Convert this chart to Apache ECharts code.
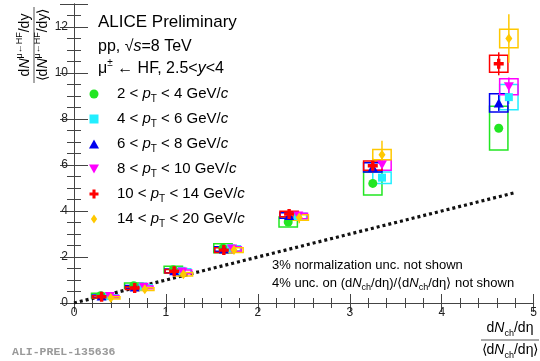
<!DOCTYPE html>
<html><head><meta charset="utf-8">
<script src="https://cdn.jsdelivr.net/npm/echarts@6/dist/echarts.min.js"></script>
<style>html,body{margin:0;padding:0;background:#fff}#c{width:540px;height:361px}</style>
</head><body><div id="c"></div>
<script>
// ---------------- data ----------------
const seriesNames = ['pt2_4', 'pt4_6', 'pt6_8', 'pt8_10', 'pt10_14', 'pt14_20'];
const legendLabels = [
  '2 < {i|p}{sub|T} < 4 GeV/{i|c}',
  '4 < {i|p}{sub|T} < 6 GeV/{i|c}',
  '6 < {i|p}{sub|T} < 8 GeV/{i|c}',
  '8 < {i|p}{sub|T} < 10 GeV/{i|c}',
  '10 < {i|p}{sub|T} < 14 GeV/{i|c}',
  '14 < {i|p}{sub|T} < 20 GeV/{i|c}'
];
// x positions (relative multiplicity)
const xGreen   = [0.29, 0.65, 1.08, 1.62, 2.33, 3.25, 4.62];
const xCyan    = [0.38, 0.75, 1.17, 1.71, 2.43, 3.35, 4.73];
const xBlue    = [0.30, 0.66, 1.09, 1.63, 2.34, 3.25, 4.62];
const xMagenta = [0.39, 0.76, 1.18, 1.72, 2.44, 3.35, 4.73];
const xRed     = [0.30, 0.66, 1.09, 1.63, 2.34, 3.25, 4.62];
const xYellow  = [0.40, 0.77, 1.19, 1.74, 2.45, 3.35, 4.73];
// relative yields
const yGreen   = [0.32, 0.75, 1.45, 2.38, 3.52, 5.20, 7.60];
const yCyan    = [0.30, 0.72, 1.40, 2.38, 3.78, 5.45, 8.95];
const yBlue    = [0.30, 0.70, 1.40, 2.35, 3.80, 5.90, 8.70];
const yMagenta = [0.28, 0.68, 1.35, 2.35, 3.78, 6.00, 9.40];
const yRed     = [0.27, 0.65, 1.38, 2.30, 3.87, 5.97, 10.40];
const yYellow  = [0.22, 0.60, 1.25, 2.30, 3.72, 6.45, 11.50];
// statistical uncertainties
const statGreen   = [0.01, 0.02, 0.03, 0.04, 0.05, 0.10, 0.15];
const statCyan    = [0.01, 0.02, 0.03, 0.04, 0.06, 0.15, 0.30];
const statBlue    = [0.01, 0.02, 0.03, 0.05, 0.08, 0.20, 0.35];
const statMagenta = [0.02, 0.03, 0.04, 0.06, 0.10, 0.25, 0.40];
const statRed     = [0.02, 0.03, 0.05, 0.08, 0.12, 0.30, 0.50];
const statYellow  = [0.04, 0.06, 0.10, 0.15, 0.25, 0.60, 1.05];
// systematic uncertainties
const systGreen   = [0.10, 0.12, 0.15, 0.20, 0.22, 0.50, 0.95];
const systCyan    = [0.06, 0.07, 0.09, 0.11, 0.12, 0.25, 0.55];
const systBlue    = [0.05, 0.06, 0.08, 0.10, 0.12, 0.20, 0.40];
const systMagenta = [0.05, 0.06, 0.08, 0.10, 0.12, 0.23, 0.35];
const systRed     = [0.05, 0.06, 0.08, 0.10, 0.12, 0.20, 0.37];
const systYellow  = [0.05, 0.06, 0.08, 0.10, 0.12, 0.22, 0.40];
// reference line y = x
const refLineX = [0, 4.8];
const refLineY = [0, 4.8];
// axis ticks
const xTickLabels = ['0', '1', '2', '3', '4', '5'];
const yTickLabels = ['0', '2', '4', '6', '8', '10', '12'];

// ---------------- styles ----------------
const FONT = '"Liberation Sans", Arial, Helvetica, sans-serif';
const colors = ['#22e622', '#22eeff', '#0000ee', '#ff00ff', '#ff0000', '#ffc800'];
const symbols = [
  'path://M0,5a5,5 0 1,0 10,0a5,5 0 1,0 -10,0z',
  'path://M0,0h10v10h-10z',
  'path://M5,0L10,9L0,9z',
  'path://M0,0L10,0L5,9z',
  'path://M3.3,0h3.4v3.3h3.3v3.4h-3.3v3.3h-3.4v-3.3h-3.3v-3.4h3.3z',
  'path://M3.5,0L7,5L3.5,10L0,5z'
];
const symbolSizes = [[9, 9], [8, 8], [10, 9], [10, 9], [10, 10], [7, 10]];
const BOX_HALF_W = 0.1;

const X = [xGreen, xCyan, xBlue, xMagenta, xRed, xYellow];
const Y = [yGreen, yCyan, yBlue, yMagenta, yRed, yYellow];
const S = [statGreen, statCyan, statBlue, statMagenta, statRed, statYellow];
const SY = [systGreen, systCyan, systBlue, systMagenta, systRed, systYellow];

const series = [];
series.push({
  type: 'line', name: 'ref', data: refLineX.map((x, i) => [x, refLineY[i]]),
  showSymbol: false, silent: true, z: 1,
  lineStyle: { color: '#111', width: 3.2, type: [3, 3], cap: 'butt' }
});
for (let k = 0; k < 6; k++) {
  const col = colors[k];
  series.push({
    type: 'custom', name: seriesNames[k] + '_unc', z: 2, silent: true,
    data: X[k].map((x, i) => [x, Y[k][i], S[k][i], SY[k][i]]),
    renderItem: function (params, api) {
      const x = api.value(0), y = api.value(1), st = api.value(2), sy = api.value(3);
      const p0 = api.coord([x - BOX_HALF_W, y + sy]);
      const p1 = api.coord([x + BOX_HALF_W, y - sy]);
      const e0 = api.coord([x, y + st]);
      const e1 = api.coord([x, y - st]);
      return {
        type: 'group', children: [
          { type: 'rect', shape: { x: p0[0], y: p0[1], width: p1[0] - p0[0], height: p1[1] - p0[1] },
            style: { fill: 'none', stroke: col, lineWidth: 1.5 } },
          { type: 'line', shape: { x1: e0[0], y1: e0[1], x2: e1[0], y2: e1[1] },
            style: { stroke: col, lineWidth: 1.5 } }
        ]
      };
    }
  });
}
for (let k = 0; k < 6; k++) {
  series.push({
    type: 'scatter', name: seriesNames[k], z: 3 + k,
    data: X[k].map((x, i) => [x, Y[k][i]]),
    symbol: symbols[k], symbolSize: symbolSizes[k], symbolKeepAspect: false,
    itemStyle: { color: colors[k], opacity: 1 },
    emphasis: { disabled: true }
  });
}

const axisLineStyle = { color: '#444', width: 1 };
const richSub = {
  i: { fontStyle: 'italic', fontFamily: FONT, fontSize: 15, lineHeight: 20 },
  sub: { fontFamily: FONT, fontSize: 10, lineHeight: 10, verticalAlign: 'bottom' }
};

const option = {
  animation: false,
  backgroundColor: '#fff',
  grid: { left: 74, right: 4, top: 4, bottom: 58 },
  xAxis: [{
    type: 'value', min: 0, max: 5, interval: 1, position: 'bottom',
    axisLine: { lineStyle: axisLineStyle },
    axisTick: { inside: true, length: 9, lineStyle: axisLineStyle },
    minorTick: { show: true, splitNumber: 5, length: 5, lineStyle: axisLineStyle },
    splitLine: { show: false },
    axisLabel: { margin: 4, fontFamily: FONT, fontSize: 12, color: '#222',
      formatter: v => xTickLabels[Math.round(v)] }
  }, {
    type: 'value', min: 0, max: 5, interval: 1, position: 'top',
    axisLine: { lineStyle: axisLineStyle },
    axisTick: { inside: true, length: 9, lineStyle: axisLineStyle },
    minorTick: { show: true, splitNumber: 5, length: 5, lineStyle: axisLineStyle },
    splitLine: { show: false }, axisLabel: { show: false }
  }],
  yAxis: [{
    type: 'value', min: 0, max: 13, interval: 2, position: 'left',
    axisLine: { lineStyle: axisLineStyle },
    axisTick: { inside: true, length: 14, lineStyle: axisLineStyle },
    minorTick: { show: true, splitNumber: 4, length: 7, lineStyle: axisLineStyle },
    splitLine: { show: false },
    axisLabel: { margin: 6, fontFamily: FONT, fontSize: 12, color: '#222', showMaxLabel: false,
      formatter: v => (v % 2 === 0 ? yTickLabels[v / 2] : '') }
  }, {
    type: 'value', min: 0, max: 13, interval: 2, position: 'right',
    axisLine: { lineStyle: axisLineStyle },
    axisTick: { inside: true, length: 14, lineStyle: axisLineStyle },
    minorTick: { show: true, splitNumber: 4, length: 7, lineStyle: axisLineStyle },
    splitLine: { show: false }, axisLabel: { show: false }
  }],
  legend: {
    orient: 'vertical', left: 89, top: 84, padding: 0,
    itemWidth: 36, itemHeight: 9, itemGap: 5, selectedMode: false,
    symbolKeepAspect: true,
    data: seriesNames.map((n, i) => ({ name: n, icon: symbols[i], itemStyle: { color: colors[i] } })),
    formatter: n => legendLabels[seriesNames.indexOf(n)],
    textStyle: { fontFamily: FONT, fontSize: 15, color: '#000', lineHeight: 20, rich: richSub }
  },
  graphic: [
    { type: 'text', left: 98, top: 14, style: { text: 'ALICE Preliminary', fontFamily: FONT, fontSize: 17, fill: '#000' } },
    { type: 'text', x: 98, y: 47, style: {
      text: 'pp, √{i|s}=8 TeV', fontFamily: FONT, fontSize: 16, fill: '#000', verticalAlign: 'middle',
      rich: { i: { fontStyle: 'italic', fontFamily: FONT, fontSize: 16 } } } },
    { type: 'text', x: 98, y: 69, style: {
      text: 'μ{sup|±} ← HF, 2.5<{i|y}<4', fontFamily: FONT, fontSize: 16, fill: '#000', verticalAlign: 'middle', lineHeight: 22,
      rich: { i: { fontStyle: 'italic', fontFamily: FONT, fontSize: 16, lineHeight: 22 },
              sup: { fontFamily: FONT, fontSize: 10, lineHeight: 10, verticalAlign: 'top' } } } },
    { type: 'text', x: 272, y: 265, style: {
      text: '3% normalization unc. not shown', fontFamily: FONT, fontSize: 13, fill: '#000', verticalAlign: 'middle' } },
    { type: 'text', x: 272, y: 283, style: {
      text: '4% unc. on (d{i|N}{sub|ch}/dη)/⟨d{i|N}{sub|ch}/dη⟩ not shown', fontFamily: FONT, fontSize: 13, fill: '#000',
      verticalAlign: 'middle', lineHeight: 18,
      rich: { i: { fontStyle: 'italic', fontFamily: FONT, fontSize: 13, lineHeight: 18 },
              sub: { fontFamily: FONT, fontSize: 9, lineHeight: 9, verticalAlign: 'bottom' } } } },
    // x axis title (fraction)
    { type: 'text', x: 510, y: 328, style: {
      text: 'd{i|N}{sub|ch}/dη', fontFamily: FONT, fontSize: 14, fill: '#000', align: 'center', verticalAlign: 'middle', lineHeight: 20,
      rich: { i: { fontStyle: 'italic', fontFamily: FONT, fontSize: 14, lineHeight: 20 },
              sub: { fontFamily: FONT, fontSize: 9, lineHeight: 9, verticalAlign: 'bottom' } } } },
    { type: 'line', shape: { x1: 481, y1: 340, x2: 539, y2: 340 }, style: { stroke: '#555', lineWidth: 1 } },
    { type: 'text', x: 510, y: 350, style: {
      text: '⟨d{i|N}{sub|ch}/dη⟩', fontFamily: FONT, fontSize: 14, fill: '#000', align: 'center', verticalAlign: 'middle', lineHeight: 20,
      rich: { i: { fontStyle: 'italic', fontFamily: FONT, fontSize: 14, lineHeight: 20 },
              sub: { fontFamily: FONT, fontSize: 9, lineHeight: 9, verticalAlign: 'bottom' } } } },
    // y axis title (fraction, rotated)
    { type: 'group', x: 34, y: 45, rotation: Math.PI / 2, children: [
      { type: 'text', x: 0, y: -9, style: {
        text: 'd{i|N}{sup|μ←HF}/dy', fontFamily: FONT, fontSize: 14, fill: '#000', align: 'center', verticalAlign: 'middle', lineHeight: 20,
        rich: { i: { fontStyle: 'italic', fontFamily: FONT, fontSize: 14, lineHeight: 20 },
                sup: { fontFamily: FONT, fontSize: 9, lineHeight: 9, verticalAlign: 'top' } } } },
      { type: 'line', shape: { x1: -38, y1: 0, x2: 38, y2: 0 }, style: { stroke: '#555', lineWidth: 1 } },
      { type: 'text', x: 0, y: 9, style: {
        text: '⟨d{i|N}{sup|μ←HF}/dy⟩', fontFamily: FONT, fontSize: 14, fill: '#000', align: 'center', verticalAlign: 'middle', lineHeight: 20,
        rich: { i: { fontStyle: 'italic', fontFamily: FONT, fontSize: 14, lineHeight: 20 },
                sup: { fontFamily: FONT, fontSize: 9, lineHeight: 9, verticalAlign: 'top' } } } }
    ] },
    { type: 'text', x: 12, y: 352, style: {
      text: 'ALI-PREL-135636', fontFamily: '"Liberation Mono", "DejaVu Sans Mono", monospace', fontWeight: 'bold',
      fontSize: 11.5, fill: '#9a9a9a', verticalAlign: 'middle' } }
  ],
  series: series
};
const chart = echarts.init(document.getElementById('c'), null, { renderer: 'canvas' });
chart.setOption(option);
</script>
</body></html>
